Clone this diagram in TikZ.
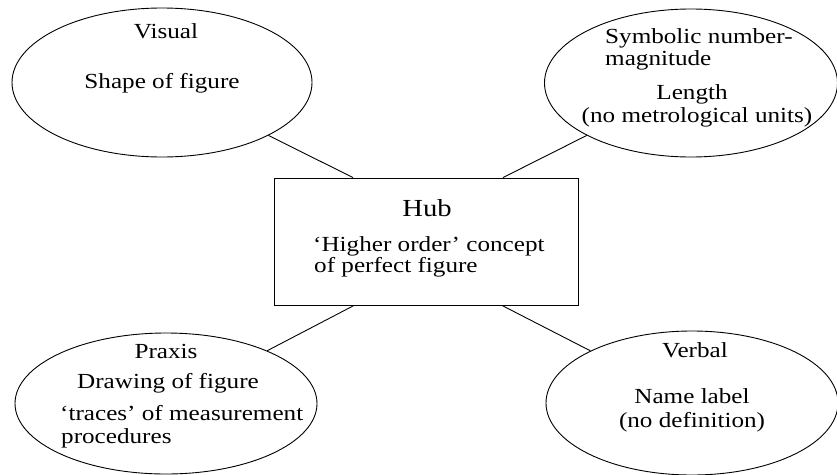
\documentclass[tikz,border=0pt]{standalone}
\usepackage{fontspec}
\setmainfont{Liberation Serif}[FakeStretch=1.17]
\usetikzlibrary{shapes.geometric}

\begin{document}
\begin{tikzpicture}[
  x=1pt, y=-1pt,
  font=\fontsize{21.5}{23}\selectfont,
  idea/.style={ellipse, draw, line width=0.9pt, inner sep=0pt,
               minimum width=300pt, minimum height=149pt},
  hubbox/.style={rectangle, draw, line width=0.9pt, inner sep=0pt,
                 minimum width=304pt, minimum height=127pt},
  txt/.style={anchor=base, inner sep=0pt},
  txtl/.style={anchor=base west, inner sep=0pt},
  link/.style={line width=0.9pt}
]
\useasboundingbox (0,0) rectangle (837,474);

% hub in the middle
\node[hubbox] (hub) at (426,241.5) {};
\node[txt, font=\fontsize{24.5}{26}\selectfont] (hubtitle) at (427,216) {Hub};
\node[txtl] (hubline1) at (313,251) {`Higher order' concept};
\node[txtl] (hubline2) at (314,272) {of perfect figure};

% the four sides
\node[idea] (visual) at (162,82.5) {};
\node[txt] (visualtitle) at (166,38) {Visual};
\node[txt] (visualtext) at (162,88) {Shape of figure};

\node[idea, minimum width=293pt, minimum height=148pt] (symbolic) at (691,83) {};
\node[txtl] (symboltitle1) at (605,43) {Symbolic number-};
\node[txtl] (symboltitle2) at (605,65) {magnitude};
\node[txt] (symboltext1) at (692,99) {Length};
\node[txt] (symboltext2) at (697,122) {(no metrological units)};

\node[idea, minimum width=302pt, minimum height=141pt] (praxis) at (166,403.5) {};
\node[txt] (praxistitle) at (166,358) {Praxis};
\node[txt] (praxistext1) at (168,388) {Drawing of figure};
\node[txtl] (praxistext2) at (60,420) {`traces' of measurement};
\node[txtl] (praxistext3) at (61,443) {procedures};

\node[idea, minimum width=292pt, minimum height=144pt] (verbal) at (692,403) {};
\node[txt] (verbaltitle) at (695,357) {Verbal};
\node[txt] (verbaltext1) at (692,403) {Name label};
\node[txt] (verbaltext2) at (692,427) {(no definition)};

\draw[link] ([xshift=-73pt]hub.north) -- (visual);
\draw[link] ([xshift=77pt]hub.north) -- (symbolic);
\draw[link] ([xshift=-72pt]hub.south) -- (praxis);
\draw[link] ([xshift=76pt]hub.south) -- (verbal);
\end{tikzpicture}
\end{document}
